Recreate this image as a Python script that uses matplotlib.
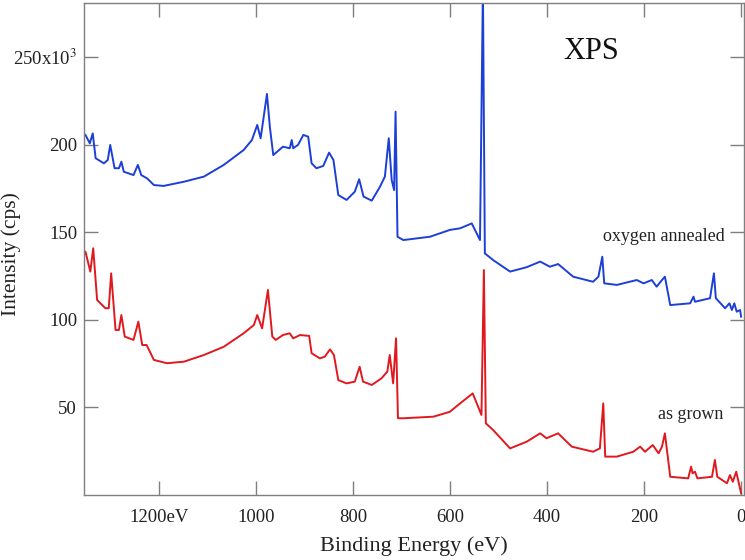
import matplotlib
matplotlib.use("Agg")
import matplotlib.pyplot as plt

plt.rcParams["font.family"] = ["Liberation Serif", "DejaVu Serif"]
plt.rcParams["mathtext.fontset"] = "stix"

# Survey spectra: binding energy (eV) and intensity (x10^3 cps)
annealed_be = [1354, 1351, 1342, 1336, 1330, 1313, 1305, 1300, 1291, 1282, 1277, 1272,
               1252, 1243, 1236, 1224, 1210, 1190, 1148, 1107, 1066, 1025, 1008, 997,
               990, 977, 971, 964, 944, 930, 926, 923, 913, 902, 892, 885, 875, 861,
               849, 840, 830, 813, 796, 787, 778, 761, 744, 734, 726, 720, 715, 712,
               708, 696, 641, 600, 579, 555, 538, 532, 528, 511, 476, 442, 414, 394,
               377, 346, 305, 294, 286, 282, 256, 215, 201, 184, 174, 163, 157, 146,
               105, 98, 95, 64, 56, 52, 33, 24, 19, 14, 9, 2, 0]
annealed_int = [206.0, 205.5, 200.7, 206.4, 192.2, 189.3, 191.2, 199.8, 186.5, 186.5, 190.2, 184.5,
                182.6, 188.4, 182.6, 180.7, 176.9, 176.4, 178.8, 181.7, 188.4, 196.9, 202.6, 211.2,
                203.6, 228.9, 210.0, 194.0, 198.8, 197.9, 202.6, 197.9, 199.8, 205.5, 204.5, 189.3, 186.5, 187.8,
                195.4, 191.2, 171.2, 168.4, 173.1, 180.2, 170.3, 168.0, 176.0, 181.7, 203.6, 179.8, 174.0, 218.8,
                147.4, 145.5, 147.4, 151.3, 152.2, 155.0, 145.5, 290.0, 137.9, 134.1, 127.5, 130.0, 133.2, 130.3,
                131.8, 124.6, 121.7, 124.6, 136.0, 120.8, 119.9, 122.7, 120.8, 122.7, 118.9, 122.7, 124.6, 108.4,
                109.4, 113.2, 110.3, 112.3, 126.5, 112.3, 106.6, 109.4, 105.6, 109.4, 104.6, 105.6, 101.8]

grown_be = [1354, 1351, 1341, 1335, 1327, 1310, 1303, 1298, 1289, 1282, 1277, 1270,
            1252, 1242, 1234, 1225, 1210, 1183, 1148, 1107, 1066, 1025, 1004, 997,
            987, 975, 966, 959, 944, 930, 923, 909, 890, 885, 868, 858, 847, 839,
            830, 813, 796, 786, 779, 761, 741, 729, 724, 717, 711, 707, 696, 634,
            600, 579, 553, 535, 530, 526, 511, 476, 442, 414, 401, 377, 349, 305,
            291, 284, 280, 256, 222, 208, 198, 182, 170, 163, 157, 146, 109, 103,
            100, 95, 90, 60, 54, 49, 29, 23, 17, 10, 3, 0]
grown_int = [137.0, 138.9, 127.5, 140.8, 111.3, 106.6, 106.6, 126.5, 94.2, 94.2, 102.7, 90.4,
             88.5, 98.9, 85.6, 85.6, 77.1, 75.2, 76.1, 79.9, 84.6, 92.3, 97.0, 102.7,
             95.1, 117.0, 90.4, 88.5, 91.3, 92.3, 89.4, 91.3, 90.8, 80.9, 78.0, 78.9, 83.1, 79.9,
             65.6, 63.7, 64.7, 73.2, 64.7, 62.8, 66.6, 70.4, 79.9, 63.7, 89.4, 43.8, 43.8, 44.7,
             47.5, 52.3, 58.0, 45.7, 128.4, 40.9, 37.1, 26.6, 30.4, 35.2, 32.4, 35.2, 27.6, 24.7,
             26.6, 52.3, 21.9, 21.9, 24.7, 27.6, 24.7, 28.5, 23.8, 27.6, 35.2, 10.4, 9.5, 16.2,
             12.4, 13.3, 9.5, 10.4, 20.0, 10.4, 6.7, 11.4, 7.6, 13.3, 4.7, 1.0]

x_ticks = [1200, 1000, 800, 600, 400, 200, 0]
x_tick_labels = ["1200eV", "1000", "800", "600", "400", "200", "0"]
y_ticks = [50, 100, 150, 200, 250]
y_tick_labels = ["50", "100", "150", "200", r"250x10$^{3}$"]

fig = plt.figure(figsize=(7.45, 5.6), dpi=100)
ax = fig.add_axes([84 / 745, 1 - 495 / 560, (744 - 84) / 745, (495 - 3) / 560])

ax.plot(annealed_be, annealed_int, color="#1c3fd6", lw=1.4)
ax.plot(grown_be, grown_int, color="#e0191f", lw=1.4)

ax.set_xlim(1354, -6)
ax.set_ylim(0, 280.8)

ax.set_xticks(x_ticks)
ax.set_xticklabels(x_tick_labels)
ax.set_yticks(y_ticks)
ax.set_yticklabels(y_tick_labels)

for s in ax.spines.values():
    s.set_color("#7f7f7f")
    s.set_linewidth(1.0)
ax.tick_params(direction="in", length=10, width=1.0, color="#7f7f7f",
               top=True, right=True, labelsize=13.5, labelcolor="#222222")
ax.tick_params(axis="x", pad=10)
ax.tick_params(axis="y", pad=5)

ax.set_xlabel("Binding Energy (eV)", fontsize=16, color="#222222")
ax.xaxis.set_label_coords(0.5, -0.083)
ax.set_ylabel("Intensity (cps)", fontsize=15.5, color="#222222")
ax.yaxis.set_label_coords(-0.095, 0.49)

ax.text(0.768, 0.902, "XPS", transform=ax.transAxes, fontsize=22,
        ha="center", va="center", color="#111111")
ax.text(33, 147.3, "oxygen annealed", fontsize=13, ha="right", va="center", color="#222222")
ax.text(37, 45.7, "as grown", fontsize=13, ha="right", va="center", color="#222222")

fig.savefig("out.png", dpi=100)
